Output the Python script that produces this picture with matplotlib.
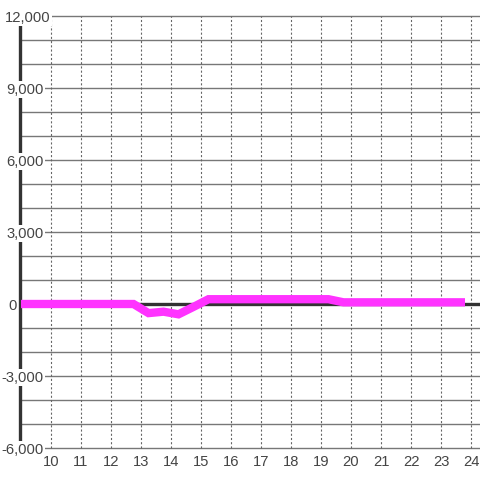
import matplotlib
matplotlib.use("Agg")
import matplotlib.pyplot as plt
from matplotlib.transforms import offset_copy

# Data
hours = [9.0, 12.75, 13.25, 13.75, 14.25, 14.75, 15.25, 19.25, 19.75, 23.8]
values = [0, 0, -380, -320, -430, -120, 200, 200, 70, 70]

x_ticks = list(range(10, 25))
x_tick_labels = [str(h) for h in x_ticks]
y_ticks = [12000, 9000, 6000, 3000, 0, -3000, -6000]
y_tick_labels = ["12,000", "9,000", "6,000", "3,000", "0", "-3,000", "-6,000"]
y_grid = list(range(-6000, 12001, 1000))

W = H = 480
fig = plt.figure(figsize=(4.8, 4.8), dpi=100)
ax = fig.add_axes([0, 0, 1, 1])
ax.set_axis_off()

# pixel mapping: x_px = 51 + (h-10)*30 ; y_px(from top) = 304 - v*0.024
ax.set_xlim(10 - 51 / 30, 10 + (W - 51) / 30)
ax.set_ylim(-(H - 304) / 0.024, 304 / 0.024)

x_left = 10 - 31 / 30  # spine position
x_right = 10 + (W - 51) / 30

# horizontal grid
for v in y_grid:
    ax.plot([x_left, x_right], [v, v], color="#777777", lw=1.0, zorder=1,
            solid_capstyle="butt")
# vertical dashed grid
for h in x_ticks:
    ax.plot([h, h], [-6000, 12000], color="#666666", lw=0.8, zorder=1,
            linestyle=(0, (1.9, 1.9)))

# zero line
ax.plot([x_left, x_right], [0, 0], color="#333333", lw=2.4, zorder=2,
        solid_capstyle="butt")
# left spine
ax.plot([x_left, x_left], [-6000, 12000], color="#333333", lw=2.4, zorder=2,
        solid_capstyle="butt")

# series
ax.plot(hours, values, color="#ff33ff", lw=6, zorder=5,
        solid_capstyle="butt", solid_joinstyle="miter")

# y labels
ytrans = offset_copy(ax.get_yaxis_transform(), fig=fig, x=0, y=-5.5, units="dots")
for v, lab in zip(y_ticks, y_tick_labels):
    if lab == "0":
        xr = 16.5
    elif v == max(y_ticks):
        xr = 50.5
    else:
        xr = 43.5
    ax.text(xr / W, v, lab, transform=ytrans, ha="right", va="baseline",
            fontsize=10.6, color="#444444", family="Liberation Sans", zorder=10,
            bbox=dict(facecolor="white", edgecolor="none", pad=1.0))

# x labels
xtrans = ax.get_xaxis_transform()
for h, lab in zip(x_ticks, x_tick_labels):
    ax.text(h, 1 - 466 / H, lab, transform=xtrans, ha="center", va="baseline",
            fontsize=10.6, color="#444444", family="Liberation Sans", zorder=10)

fig.savefig("out.png", dpi=100)
